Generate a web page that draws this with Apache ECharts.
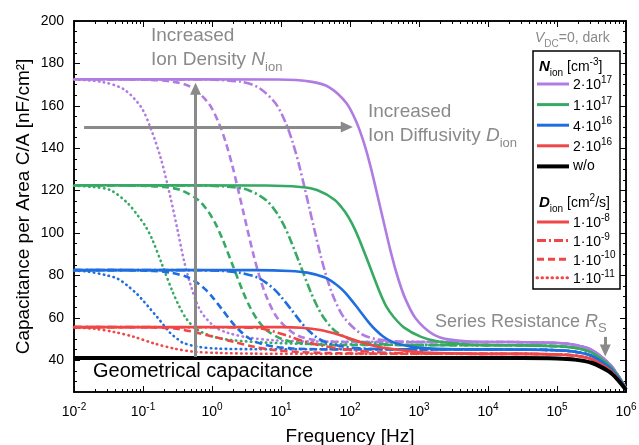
<!DOCTYPE html>
<html>
<head>
<meta charset="utf-8">
<title>Capacitance per area vs frequency</title>
<script src="https://cdn.jsdelivr.net/npm/echarts@6.0.0/dist/echarts.min.js"></script>
<style>
html, body { margin: 0; padding: 0; background: #fff; }
#chart { width: 639px; height: 445px; }
</style>
</head>
<body>
<div id="chart"></div>
<script>
const FONT = '"Liberation Sans", Arial, Helvetica, sans-serif';
const GRAY = '#8a8a8a';
const PURPLE = '#b07ce2';
const GREEN = '#36aa62';
const BLUE = '#1f6ee0';
const RED = '#f04646';

// axis ticks
const freqExponents = [-2, -1, 0, 1, 2, 3, 4, 5, 6];
const capTicks = [40, 60, 80, 100, 120, 140, 160, 180, 200];

// curves, [log10(f / Hz), C/A in nF/cm2]
const purpleSolid = [[-2,172.5],[0.95,172.4],[1.45,171.3],[1.7,168.7],[1.95,161.2],[2.1,151.8],[2.2,142.7],[2.3,131.1],[2.45,110.5],[2.6,89.9],[2.7,78.3],[2.8,69.1],[2.95,59.8],[3.2,52.3],[3.45,49.7],[3.95,48.6]];
const purpleDashDot = [[-2,172.5],[-0.08,172.4],[0.42,171.3],[0.67,168.7],[0.92,161.2],[1.07,151.8],[1.17,142.7],[1.27,131.1],[1.42,110.5],[1.57,89.9],[1.67,78.3],[1.77,69.1],[1.92,59.8],[2.17,52.3],[2.42,49.7],[2.92,48.6]];
const purpleDashed = [[-2,172.5],[-1.05,172.4],[-0.55,171.3],[-0.3,168.7],[-0.05,161.2],[0.1,151.8],[0.2,142.7],[0.3,131.1],[0.45,110.5],[0.6,89.9],[0.7,78.3],[0.8,69.1],[0.95,59.8],[1.2,52.3],[1.45,49.7],[1.95,48.6]];
const purpleDotted = [[-2,172.4],[-1.6,171.3],[-1.28,167.8],[-1.03,159.5],[-0.89,149.5],[-0.74,135],[-0.6,116.5],[-0.5,101.5],[-0.41,87.5],[-0.31,75.5],[-0.17,63.5],[0.03,56],[0.22,53],[0.51,50.8],[0.9,49.4],[1.5,48.8]];

const greenSolid = [[-2,122.5],[0.78,122.4],[1.28,121.7],[1.53,120.2],[1.78,115.6],[1.93,109.9],[2.03,104.4],[2.13,97.3],[2.28,84.8],[2.43,72.2],[2.53,65.1],[2.63,60.5],[2.78,55.5],[3.03,51],[3.28,48.8],[3.78,47.3]];
const greenDashDot = [[-2,122.5],[-0.22,122.4],[0.28,121.7],[0.53,120.2],[0.78,115.6],[0.93,109.9],[1.03,104.4],[1.13,97.3],[1.28,84.8],[1.43,72.2],[1.53,65.1],[1.63,59.5],[1.78,53.9],[2.03,49.5],[2.28,48],[2.78,47.2]];
const greenDashed = [[-2,122.5],[-1.2,122.4],[-0.7,121.7],[-0.45,120.2],[-0.2,115.6],[-0.05,109.9],[0.05,104.4],[0.15,97.3],[0.3,84.8],[0.45,72.2],[0.55,65.1],[0.65,59.5],[0.8,53.9],[1.05,49.5],[1.3,48],[1.8,47.2]];
const greenDotted = [[-2,122.3],[-1.72,121.7],[-1.47,120.2],[-1.22,114],[-1.07,108],[-0.97,103.5],[-0.87,97.3],[-0.72,84.8],[-0.57,72.2],[-0.47,65.1],[-0.37,59.5],[-0.22,54.5],[0.03,51],[0.28,49.5],[0.78,48.3],[1.5,47.6]];

const blueSolid = [[-2,82.5],[0.63,82.5],[1.13,82.1],[1.38,81.3],[1.63,79.1],[1.78,76.2],[1.88,73.5],[1.98,70],[2.13,63.8],[2.28,57.5],[2.38,54],[2.48,51.2],[2.63,48.4],[2.88,46.4],[3.13,45.6],[3.63,45.1]];
const blueDashDot = [[-2,82.5],[-0.35,82.5],[0.15,82.1],[0.4,81.3],[0.65,79.1],[0.8,76.2],[0.9,73.5],[1,70],[1.15,63.8],[1.3,57.5],[1.4,54],[1.5,51.2],[1.65,48.4],[1.9,46.4],[2.15,45.6],[2.65,45.1]];
const blueDashed = [[-2,82.5],[-1.35,82.5],[-0.85,82.1],[-0.6,81.3],[-0.35,79.1],[-0.2,76.2],[-0.1,73.5],[0,70],[0.15,63.8],[0.3,57.5],[0.4,54],[0.5,51.2],[0.65,48.4],[0.9,46.4],[1.15,45.6],[1.65,45.1]];
const blueDotted = [[-2,82.3],[-1.8,81.8],[-1.52,80],[-1.37,78.5],[-1.23,75.3],[-1.08,71],[-0.99,67.8],[-0.89,64],[-0.79,60.2],[-0.7,56.5],[-0.61,53],[-0.5,50],[-0.42,48.2],[-0.22,46.4],[0.07,45.5],[0.6,45.2]];

const redSolid = [[-2,55.6],[1,55.6],[1.3,55.3],[1.57,54.2],[1.86,51.8],[2,50.2],[2.15,48.6],[2.3,47.2],[2.44,46.1],[2.73,44.8],[3,43.8],[3.4,43.2],[3.9,43]];
const redDashDot = [[-2,55.6],[0.3,55.5],[0.7,55],[0.99,52.6],[1.14,51],[1.28,49.4],[1.43,48.1],[1.57,47],[1.86,45.4],[2.2,44.2],[2.6,43.4],[3.2,43.1]];
const redDashed = [[-2,55.6],[-0.9,55.5],[-0.55,55],[-0.26,53.3],[0.03,51],[0.32,48.6],[0.61,46.3],[0.9,44.8],[1.3,43.8],[1.8,43.3],[2.5,43.1]];
const redDotted = [[-2,55.5],[-1.7,54.8],[-1.42,53.3],[-1.13,51],[-0.84,47.9],[-0.55,45.5],[-0.26,44],[0.1,43.4],[0.6,43.1],[1.5,43]];

// high-frequency end (series resistance roll-off)
const tailPurple = [[4,48.6],[4.5,48.5],[5,48.1],[5.25,47.3],[5.5,44.9],[5.75,38.6],[5.875,33.4],[6,26.8]];
const tailGreen = [[4,47.1],[4.5,47],[5,46.6],[5.25,45.9],[5.5,43.7],[5.75,37.9],[5.875,33],[6,26.7]];
const tailBlue = [[4,45.1],[4.5,45],[5,44.7],[5.25,44],[5.5,42.1],[5.75,36.9],[5.875,32.4],[6,26.6]];
const tailRed = [[4,43],[4.5,43],[5,42.7],[5.25,42.2],[5.5,40.5],[5.75,35.8],[5.875,31.7],[6,26.4]];
const geometric = [[-2,41],[4.5,41],[5,40.8],[5.25,40.3],[5.5,38.8],[5.75,34.7],[5.875,31],[6,26]];

// legend texts
const densityLabels = [['2·10', '17'], ['1·10', '17'], ['4·10', '16'], ['2·10', '16'], ['w/o', '']];
const densityColors = [PURPLE, GREEN, BLUE, RED, '#000'];
const diffusivityLabels = [['1·10', '-8'], ['1·10', '-9'], ['1·10', '-10'], ['1·10', '-11']];

const DASH = {
  solid: 'solid',
  dashdot: [9, 3, 2, 3],
  dashed: [7, 4],
  dotted: [0.5, 4.5]
};
const diffusivityDash = ['solid', 'dashdot', 'dashed', 'dotted'];

const curves = [
  [purpleDotted, tailPurple, PURPLE, 'dotted'],
  [greenDotted, tailGreen, GREEN, 'dotted'],
  [blueDotted, tailBlue, BLUE, 'dotted'],
  [redDotted, tailRed, RED, 'dotted'],
  [purpleDashed, tailPurple, PURPLE, 'dashed'],
  [greenDashed, tailGreen, GREEN, 'dashed'],
  [blueDashed, tailBlue, BLUE, 'dashed'],
  [redDashed, tailRed, RED, 'dashed'],
  [purpleDashDot, tailPurple, PURPLE, 'dashdot'],
  [greenDashDot, tailGreen, GREEN, 'dashdot'],
  [blueDashDot, tailBlue, BLUE, 'dashdot'],
  [redDashDot, tailRed, RED, 'dashdot'],
  [purpleSolid, tailPurple, PURPLE, 'solid'],
  [greenSolid, tailGreen, GREEN, 'solid'],
  [blueSolid, tailBlue, BLUE, 'solid'],
  [redSolid, tailRed, RED, 'solid']
];

const toHz = pts => pts.map(p => [Math.pow(10, p[0]), p[1]]);

const series = curves.map(c => ({
  type: 'line',
  data: toHz(c[0].concat(c[1])),
  showSymbol: false,
  smooth: 0.3,
  silent: true,
  lineStyle: { color: c[2], width: 2.6, type: DASH[c[3]], cap: c[3] === 'dotted' ? 'round' : 'butt' }
}));

series.push({
  type: 'line',
  data: toHz(geometric),
  showSymbol: false,
  smooth: 0.3,
  silent: true,
  lineStyle: { color: '#000', width: 4 },
  markLine: {
    silent: true,
    symbol: ['none', 'triangle'],
    symbolSize: [11, 12],
    label: { show: false },
    lineStyle: { color: GRAY, width: 3, type: 'solid' },
    data: [
      [{ coord: [0.578, 41.5] }, { coord: [0.578, 168] }],
      [{ coord: [0.014, 150] }, { coord: [90, 150] }],
      [{ coord: [5.0e5, 51] }, { coord: [5.0e5, 44.6] }]
    ]
  }
});

// axis decoration
const decades = freqExponents.map(e => Math.pow(10, e));
const freqMinor = [];
for (let e = -2; e < 6; e++) {
  for (let k = 2; k <= 9; k++) freqMinor.push(k * Math.pow(10, e));
}
const capMinor = [];
for (let v = 30; v < 200; v += 5) {
  if (v % 20 !== 0) capMinor.push(v);
}

const tickRich = {
  b: { fontSize: 14, fontFamily: FONT, color: '#000', verticalAlign: 'bottom' },
  s: { fontSize: 10, fontFamily: FONT, color: '#000', verticalAlign: 'bottom', padding: [0, 0, 7, 0] }
};

const axisLine = { show: true, lineStyle: { color: '#000', width: 1.5 } };

function xAx(pos, values, len, labels) {
  return {
    type: 'log', logBase: 10, min: 0.01, max: 1e6, position: pos,
    axisLine: axisLine,
    axisTick: { show: true, inside: true, length: len, customValues: values, lineStyle: { color: '#000', width: 1 } },
    axisLabel: labels ? {
      show: true, customValues: values, margin: 10,
      formatter: v => '{b|10}{s|' + Math.round(Math.log10(v)) + '}',
      rich: tickRich
    } : { show: false },
    splitLine: { show: false },
    minorTick: { show: false }
  };
}
function yAx(pos, values, len, labels) {
  return {
    type: 'value', min: 25, max: 200, position: pos,
    axisLine: axisLine,
    axisTick: { show: true, inside: true, length: len, customValues: values, lineStyle: { color: '#000', width: 1 } },
    axisLabel: labels ? { show: true, customValues: values, margin: 10, fontSize: 14, fontFamily: FONT, color: '#000' } : { show: false },
    splitLine: { show: false }
  };
}

const xAxes = [xAx('bottom', decades, 6, true), xAx('bottom', freqMinor, 3, false), xAx('top', decades, 6, false), xAx('top', freqMinor, 3, false)];
Object.assign(xAxes[0], {
  name: 'Frequency [Hz]', nameLocation: 'middle', nameGap: 35,
  nameTextStyle: { fontSize: 19, fontFamily: FONT, color: '#000' }
});
const yAxes = [yAx('left', capTicks, 6, true), yAx('left', capMinor, 3, false), yAx('right', capTicks, 6, false), yAx('right', capMinor, 3, false)];
Object.assign(yAxes[0], {
  name: 'Capacitance per Area C/A [nF/cm²]', nameLocation: 'middle', nameGap: 41, nameMoveOverlap: false,
  nameTextStyle: { fontSize: 19, fontFamily: FONT, color: '#000' }
});

// text + legend drawn as graphic elements
function txt(x, y, text, rich, fill) {
  return { type: 'text', x: x, y: y, z: 100, silent: true,
    style: { text: text, rich: rich, fill: fill, verticalAlign: 'middle', align: 'left' } };
}
function noteRich(size, fill) {
  return {
    t: { fontSize: size, fontFamily: FONT, fill: fill, verticalAlign: 'bottom', padding: [0, 0, 4, 0] },
    i: { fontSize: size, fontFamily: FONT, fill: fill, fontStyle: 'italic', verticalAlign: 'bottom', padding: [0, 0, 4, 0] },
    bi: { fontSize: size + 1, fontFamily: FONT, fill: fill, fontStyle: 'italic', fontWeight: 'bold', verticalAlign: 'bottom', padding: [0, 0, 4, 0] },
    sub: { fontSize: Math.round(size * 0.7), fontFamily: FONT, fill: fill, verticalAlign: 'bottom' },
    sup: { fontSize: Math.round(size * 0.7), fontFamily: FONT, fill: fill, verticalAlign: 'bottom', padding: [0, 0, 11, 0] }
  };
}
const legRich = {
  t: { fontSize: 14, fontFamily: FONT, fill: '#000', verticalAlign: 'bottom' },
  s: { fontSize: 10, fontFamily: FONT, fill: '#000', verticalAlign: 'bottom', padding: [0, 0, 7, 0] }
};

const graphics = [
  txt(151, 38, '{t|Increased}', noteRich(19, GRAY), GRAY),
  txt(151, 62, '{t|Ion Density }{i|N}{sub|ion}', noteRich(19, GRAY), GRAY),
  txt(368, 114, '{t|Increased}', noteRich(19, GRAY), GRAY),
  txt(368, 138, '{t|Ion Diffusivity }{i|D}{sub|ion}', noteRich(19, GRAY), GRAY),
  txt(435, 324, '{t|Series Resistance }{i|R}{sub|S}', noteRich(18, GRAY), GRAY),
  txt(93, 373, '{t|Geometrical capacitance}', noteRich(20, '#000'), '#000'),
  txt(535, 40, '{i|V}{sub|DC}{t|=0, dark}', noteRich(14, GRAY), GRAY),
  { type: 'rect', z: 99, silent: true, shape: { x: 533, y: 51, width: 87, height: 238 },
    style: { fill: '#fff', stroke: '#000', lineWidth: 1.5 } },
  txt(539, 68, '{bi|N}{sub|ion}{t| [cm}{sup|-3}{t|]}', noteRich(14, '#000'), '#000'),
  txt(539, 204, '{bi|D}{sub|ion}{t| [cm}{sup|2}{t|/s]}', noteRich(14, '#000'), '#000')
];
densityLabels.forEach((lab, i) => {
  const y = 84 + i * 20.6;
  graphics.push({ type: 'line', z: 100, silent: true, shape: { x1: 537, y1: y, x2: 569, y2: y },
    style: { stroke: densityColors[i], lineWidth: i === 4 ? 4 : 3 } });
  graphics.push(txt(573, y, '{t|' + lab[0] + '}' + (lab[1] ? '{s|' + lab[1] + '}' : ''), legRich, '#000'));
});
diffusivityLabels.forEach((lab, i) => {
  const y = 222 + i * 18.6;
  const d = DASH[diffusivityDash[i]];
  graphics.push({ type: 'line', z: 100, silent: true, shape: { x1: 537, y1: y, x2: 569, y2: y },
    style: { stroke: RED, lineWidth: 3, lineDash: d === 'solid' ? null : d, lineCap: diffusivityDash[i] === 'dotted' ? 'round' : 'butt' } });
  graphics.push(txt(573, y, '{t|' + lab[0] + '}{s|' + lab[1] + '}', legRich, '#000'));
});

const chart = echarts.init(document.getElementById('chart'), null, { renderer: 'canvas' });
chart.setOption({
  animation: false,
  backgroundColor: '#fff',
  grid: { left: 74, right: 13, top: 21, bottom: 53, containLabel: false, outerBoundsMode: 'none' },
  xAxis: xAxes,
  yAxis: yAxes,
  series: series,
  graphic: graphics
});
</script>
</body>
</html>
